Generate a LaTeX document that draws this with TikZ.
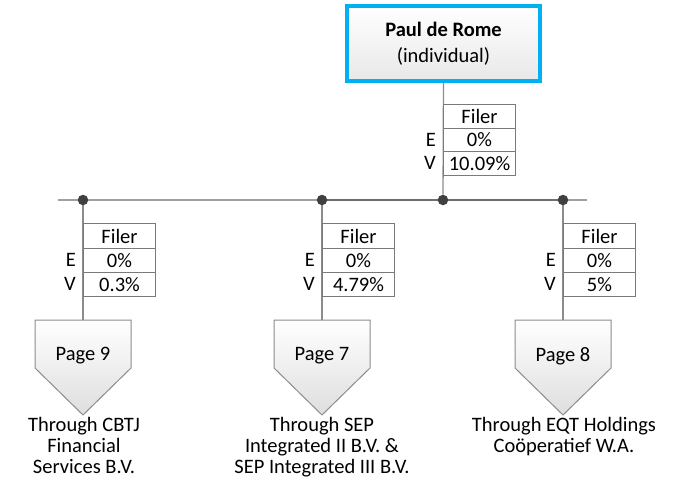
\documentclass[tikz,border=0pt]{standalone}
\usepackage{fontspec}
\setmainfont{Carlito}
\usetikzlibrary{backgrounds}
\definecolor{boxblue}{HTML}{00B0F0}
\definecolor{linegray}{HTML}{8C8C8C}
\definecolor{busdark}{HTML}{6E6E6E}
\definecolor{buslight}{HTML}{A0A0A0}
\definecolor{dotgray}{HTML}{404040}
\definecolor{tabgray}{HTML}{7A7A7A}
\begin{document}
\begin{tikzpicture}[x=1pt,y=-1pt,
  font=\fontsize{20.5}{21}\selectfont,
  cell/.style={draw=tabgray, line width=1pt, fill=white, minimum width=72pt,
    inner sep=0pt, anchor=north west},
  rowlabel/.style={anchor=east, inner sep=0pt},
  topbox/.style={draw=boxblue, line width=3.5pt, top color=white, bottom color=black!9,
    minimum width=193pt, minimum height=75pt, align=center, inner sep=0pt,
    font=\fontsize{20.5}{26}\selectfont},
  pent/.style={draw=linegray, line width=1pt, top color=white, bottom color=black!13},
  vline/.style={draw=linegray, line width=1.3pt},
  busline/.style={draw=buslight, line width=2pt},
  busdarkline/.style={draw=busdark, line width=2pt},
  dotnode/.style={circle, fill=dotgray, minimum size=10.5pt, inner sep=0pt},
  pagelabel/.style={inner sep=0pt},
  caption/.style={align=center, anchor=north, inner sep=0pt}]
\useasboundingbox (0,0) rectangle (680,485);

% top box
\node[topbox] (paul) at (443.5,43.5) {\textbf{Paul de Rome}\\(individual)};

% bus and dots
\coordinate (busL) at (58,200);
\coordinate (busR) at (587,200);
\node[dotnode] (dota) at (83,200) {};
\node[dotnode] (dotb) at (322,200) {};
\node[dotnode] (dotp) at (443,200) {};
\node[dotnode] (dotc) at (563,200) {};
\begin{pgfonlayer}{background}
  \draw[busline] (busL) -- (busR);
  \draw[busdarkline] (dotb) -- (dotc);
  \draw[vline] (paul.south) -- (dotp);
\end{pgfonlayer}

% top table
\node[cell, minimum height=24pt] (pf) at (443,104) {Filer};
\node[cell, minimum height=23pt] (pe) at (443,128) {0\%};
\node[cell, minimum height=24pt] (pv) at (443,151) {10.09\%};
\node[rowlabel] (pel) at (436,139.5) {E};
\node[rowlabel] (pvl) at (436,163) {V};

% branches
\foreach \n/\x/\v/\pg in {a/83/0.3\%/9, b/322/4.79\%/7, c/563/5\%/8}{
  \coordinate (ptop\n) at (\x,320);
  \begin{pgfonlayer}{background}
    \draw[vline] (dot\n) -- (ptop\n);
  \end{pgfonlayer}
  \node[cell, minimum height=25pt] (f\n) at (\x,223) {Filer};
  \node[cell, minimum height=24pt] (e\n) at (\x,248) {0\%};
  \node[cell, minimum height=24pt] (v\n) at (\x,272) {\v};
  \node[rowlabel] (el\n) at ({\x-7},260) {E};
  \node[rowlabel] (vl\n) at ({\x-7},284) {V};
  \draw[pent] ({\x-48},320) -- ({\x+48},320) -- ({\x+48},368) -- (\x,415) -- ({\x-48},368) -- cycle;
  \node[pagelabel] (page\n) at (\x,356) {Page \pg};
}

% captions
\node[caption] (capa) at (84,417.5) {Through CBTJ\\Financial\\Services B.V.};
\node[caption] (capb) at (322,417.5) {Through SEP\\Integrated II B.V. \&\\SEP Integrated III B.V.};
\node[caption] (capc) at (564,417.5) {Through EQT Holdings\\Coöperatief W.A.};
\end{tikzpicture}
\end{document}
